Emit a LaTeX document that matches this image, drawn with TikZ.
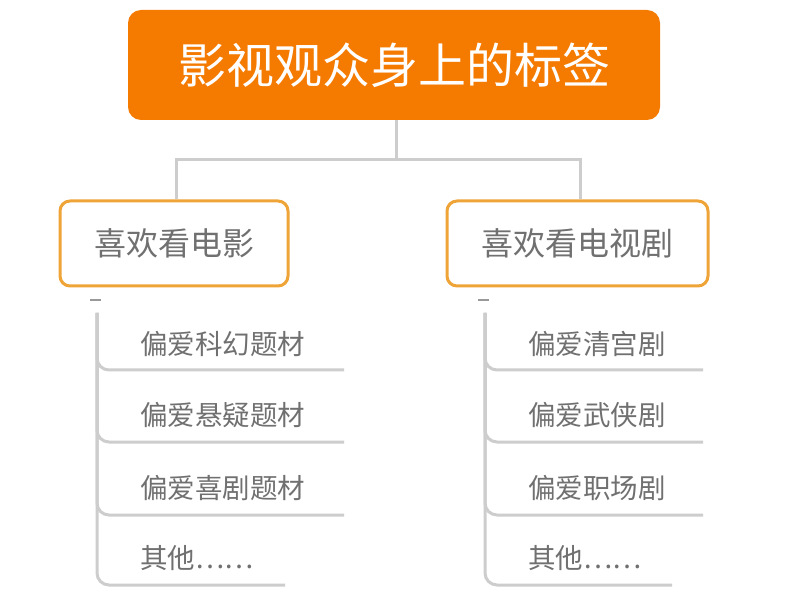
\documentclass[tikz,border=0pt]{standalone}
\usepackage{fontspec}
\newfontfamily\cjk{Noto Sans CJK SC}
\definecolor{mainor}{HTML}{F47A00}
\definecolor{boxor}{HTML}{EFA438}
\definecolor{txtgray}{HTML}{707070}
\definecolor{lngray}{HTML}{CDCDCD}
\definecolor{dashgray}{HTML}{999999}
\tikzset{
  rootbox/.style={draw=none,fill=mainor,rounded corners=13pt,minimum width=532pt,minimum height=110pt,inner sep=0pt,text=white,font=\cjk\fontsize{48}{50}\selectfont},
  catbox/.style={draw=boxor,line width=3pt,fill=white,rounded corners=10pt,minimum height=85pt,inner sep=0pt,text=txtgray,font=\cjk\fontsize{32}{34}\selectfont},
  leaf/.style={anchor=west,inner sep=0pt,text=txtgray,font=\cjk\fontsize{27.5}{30}\selectfont},
  link/.style={draw=lngray,line width=3pt},
  branch/.style={draw=lngray,line width=3pt,rounded corners=12pt},
  minus/.style={draw=dashgray,line width=2pt}
}
\begin{document}
\begin{tikzpicture}[x=1pt,y=-1pt]
\useasboundingbox[fill=white] (0,0) rectangle (787,593);
% root
\node[rootbox] (root) at (394,65) {影视观众身上的标签};
% categories
\node[catbox,minimum width=228pt] (movie) at (174,243.5) {喜欢看电影};
\node[catbox,minimum width=261pt] (tv) at (577.5,243.5) {喜欢看电视剧};
% connectors root -> categories
\coordinate (mid) at (396,160);
\draw[link] (root.south -| mid) -- (mid);
\draw[link] (mid) -| (movie.north -| 176,0);
\draw[link] (mid) -| (tv.north -| 580,0);
% minus signs
\coordinate (mA) at (90,300);
\coordinate (mB) at (101,300);
\coordinate (tA) at (478,300);
\coordinate (tB) at (489,300);
\draw[minus] (mA) -- (mB);
\draw[minus] (tA) -- (tB);
% left leaves
\coordinate (ls) at (97,313);
\node[leaf] (l1) at (140,344) {偏爱科幻题材};
\node[leaf] (l2) at (140,415) {偏爱悬疑题材};
\node[leaf] (l3) at (140,488) {偏爱喜剧题材};
\node[leaf] (l4) at (140,558) {其他……};
\coordinate (le1) at (344,370);
\coordinate (le2) at (344,442);
\coordinate (le3) at (344,515);
\coordinate (le4) at (285,585);
\draw[branch] (ls) |- (le4);
\draw[branch] (ls) |- (le3);
\draw[branch] (ls) |- (le2);
\draw[branch] (ls) |- (le1);
% right leaves
\coordinate (rs) at (485,313);
\node[leaf] (r1) at (528,344) {偏爱清宫剧};
\node[leaf] (r2) at (528,415) {偏爱武侠剧};
\node[leaf] (r3) at (528,488) {偏爱职场剧};
\node[leaf] (r4) at (528,558) {其他……};
\coordinate (re1) at (703,370);
\coordinate (re2) at (703,442);
\coordinate (re3) at (703,515);
\coordinate (re4) at (672,585);
\draw[branch] (rs) |- (re4);
\draw[branch] (rs) |- (re3);
\draw[branch] (rs) |- (re2);
\draw[branch] (rs) |- (re1);
\end{tikzpicture}
\end{document}
